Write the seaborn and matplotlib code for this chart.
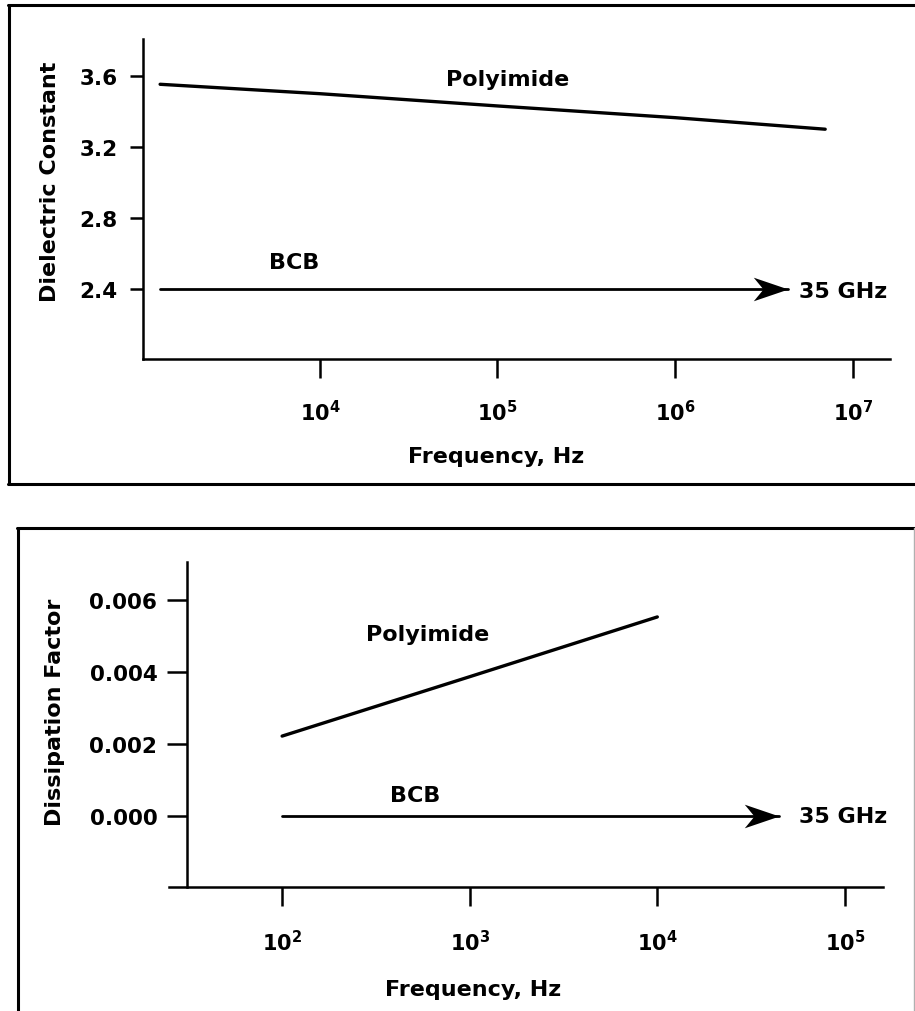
import numpy as np
import pandas as pd
import matplotlib
matplotlib.use("Agg")
import matplotlib.pyplot as plt
import seaborn as sns
from matplotlib.lines import Line2D
from matplotlib.path import Path
from matplotlib.ticker import FixedLocator, FixedFormatter, NullLocator

# ---------------- data ----------------
# top panel: dielectric constant vs frequency
top_poly_freq = [1.26e3, 1e4, 1e5, 1e6, 7.0e6]
top_poly_dk = [3.553, 3.50, 3.431, 3.365, 3.30]
top_bcb_freq = [1.26e3, 4.3e6]
top_bcb_dk = [2.4, 2.4]
top_xticks = [1e4, 1e5, 1e6, 1e7]
top_xticklabels = [r"$\mathbf{10^{4}}$", r"$\mathbf{10^{5}}$", r"$\mathbf{10^{6}}$", r"$\mathbf{10^{7}}$"]
top_yticks = [2.4, 2.8, 3.2, 3.6]
top_yticklabels = ["2.4", "2.8", "3.2", "3.6"]

# bottom panel: dissipation factor vs frequency
bot_poly_freq = [1e2, 1e3, 1e4]
bot_poly_df = [0.00222, 0.00387, 0.00553]
bot_bcb_freq = [1e2, 4.43e4]
bot_bcb_df = [0.0, 0.0]
bot_xticks = [1e2, 1e3, 1e4, 1e5]
bot_xticklabels = [r"$\mathbf{10^{2}}$", r"$\mathbf{10^{3}}$", r"$\mathbf{10^{4}}$", r"$\mathbf{10^{5}}$"]
bot_yticks = [0.0, 0.002, 0.004, 0.006]
bot_yticklabels = ["0.000", "0.002", "0.004", "0.006"]

# ---------------- style ----------------
sns.set_style("ticks")
plt.rcParams["font.family"] = ["DejaVu Sans"]
plt.rcParams["font.weight"] = "bold"
plt.rcParams["mathtext.fontset"] = "dejavusans"
plt.rcParams["axes.linewidth"] = 1.8
for key in ["text.color", "axes.labelcolor", "xtick.color", "ytick.color", "axes.edgecolor"]:
    plt.rcParams[key] = "black"

fig = plt.figure(figsize=(9.15, 10.12), dpi=100)
W, H = 915.0, 1012.0

def px_axes(left, top, right, bottom):
    return fig.add_axes([left / W, 1 - bottom / H, (right - left) / W, (bottom - top) / H])

ax1 = px_axes(143, 40, 890, 360)
ax2 = px_axes(169, 563, 883, 888)

stealth = Path([(0, 0), (-1, 0.34), (-0.72, 0), (-1, -0.34), (0, 0)],
               [Path.MOVETO, Path.LINETO, Path.LINETO, Path.LINETO, Path.CLOSEPOLY])

def style_axes(ax, xticks, xlabels, yticks, ylabels, ytick_len, ypad, xpad):
    ax.set_xscale("log")
    for s in ["top", "right"]:
        ax.spines[s].set_visible(False)
    ax.xaxis.set_major_locator(FixedLocator(xticks))
    ax.xaxis.set_major_formatter(FixedFormatter(xlabels))
    ax.xaxis.set_minor_locator(NullLocator())
    ax.set_yticks(yticks)
    ax.set_yticklabels(ylabels)
    ax.tick_params(axis="x", length=13.5, width=1.8, pad=xpad, labelsize=15, colors="black")
    ax.tick_params(axis="y", length=ytick_len, width=1.8, pad=ypad, labelsize=15.5, colors="black")
    for lab in ax.get_yticklabels():
        lab.set_fontweight("bold")

# ---------------- top panel ----------------
sns.lineplot(x=top_poly_freq, y=top_poly_dk, ax=ax1, color="black", lw=2.4)
sns.lineplot(x=top_bcb_freq, y=top_bcb_dk, ax=ax1, color="black", lw=2.0)
ax1.plot([top_bcb_freq[-1]], [top_bcb_dk[-1]], marker=stealth, markersize=50,
         color="black", markeredgewidth=0, clip_on=False)
style_axes(ax1, top_xticks, top_xticklabels, top_yticks, top_yticklabels, 9.5, 9, 15)
ax1.set_xlim(10 ** 3.004, 10 ** 7.21)
ax1.set_ylim(2.006, 3.808)
ax1.text(1.14e5, 3.583, "Polyimide", ha="center", va="center", fontsize=16, fontweight="bold", color="black")
ax1.text(7.2e3, 2.552, "BCB", ha="center", va="center", fontsize=16, fontweight="bold", color="black")
ax1.text(5.0e6, 2.39, "35 GHz", ha="left", va="center", fontsize=16, fontweight="bold", color="black")
ax1.set_xlabel("Frequency, Hz", fontsize=16, fontweight="bold", va="center", color="black")
ax1.set_ylabel("Dielectric Constant", fontsize=16, fontweight="bold", va="center", color="black")
ax1.xaxis.set_label_coords(0.4726, -0.303)
ax1.yaxis.set_label_coords(-0.1245, 0.556)

# ---------------- bottom panel ----------------
sns.lineplot(x=bot_poly_freq, y=bot_poly_df, ax=ax2, color="black", lw=2.4)
sns.lineplot(x=bot_bcb_freq, y=bot_bcb_df, ax=ax2, color="black", lw=2.0)
ax2.plot([bot_bcb_freq[-1]], [bot_bcb_df[-1]], marker=stealth, markersize=50,
         color="black", markeredgewidth=0, clip_on=False)
style_axes(ax2, bot_xticks, bot_xticklabels, bot_yticks, bot_yticklabels, 14.4, 7, 17)
ax2.set_xlim(10 ** 1.397, 10 ** 5.203)
ax2.set_ylim(-0.001972, 0.007056)
ax2.spines["left"].set_position(("data", 10 ** 1.493))
ax2.text(597, 0.00506, "Polyimide", ha="center", va="center", fontsize=16, fontweight="bold", color="black")
ax2.text(513, 0.00058, "BCB", ha="center", va="center", fontsize=16, fontweight="bold", color="black")
ax2.text(5.66e4, -0.00001, "35 GHz", ha="left", va="center", fontsize=16, fontweight="bold", color="black")
ax2.set_xlabel("Frequency, Hz", fontsize=16, fontweight="bold", va="center", color="black")
ax2.set_ylabel("Dissipation Factor", fontsize=16, fontweight="bold", va="center", color="black")
ax2.xaxis.set_label_coords(0.4258, -0.3138)
ax2.yaxis.set_label_coords(-0.1597, 0.5415)

# ---------------- panel borders ----------------
def fline(x0, y0, x1, y1, lw=2.2, color="black"):
    fig.add_artist(Line2D([x0 / W, x1 / W], [1 - y0 / H, 1 - y1 / H],
                          transform=fig.transFigure, color=color, lw=lw))

fline(8, 6, 915, 6)
fline(9, 6, 9, 485)
fline(8, 485, 915, 485)
fline(17, 529, 915, 529)
fline(18, 529, 18, 1012)
fline(914, 529, 914, 1012, lw=1.0, color="#b0b0b0")

fig.savefig("out.png", dpi=100)
